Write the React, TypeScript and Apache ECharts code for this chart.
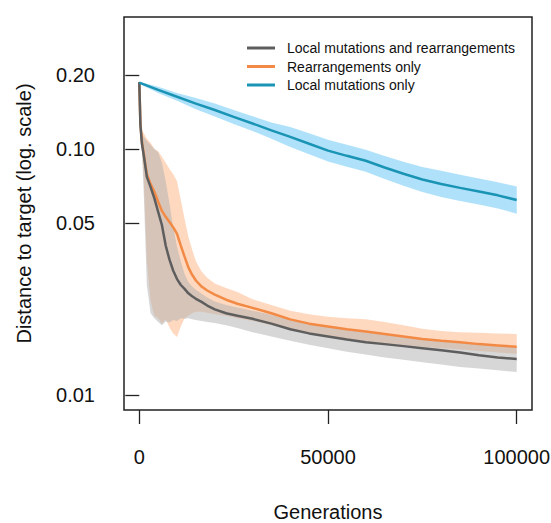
import React, { useEffect, useRef } from 'react';
import * as echarts from 'echarts';

const FONT = '"Liberation Sans", Arial, Helvetica, sans-serif';

// Axis ticks
const xTicks = [0, 50000, 100000];
const yTicks = [0.01, 0.05, 0.1, 0.2];

// Series names
const NAME_BOTH = 'Local mutations and rearrangements';
const NAME_REARR = 'Rearrangements only';
const NAME_LOCAL = 'Local mutations only';

// Generations for the two fast-dropping series
const mixGens = [0, 300, 700, 1200, 2000, 3000, 4000, 5000, 6000, 7000, 8000, 9000, 10000, 11000, 12000, 13000, 14000, 15000, 16500, 18000, 20000, 23000, 26000, 30000, 35000, 40000, 45000, 50000, 55000, 60000, 65000, 70000, 75000, 80000, 85000, 90000, 95000, 100000];

const grayMean = [0.187, 0.125, 0.105, 0.094, 0.077, 0.07, 0.063, 0.0555, 0.049, 0.0405, 0.0355, 0.032, 0.0296, 0.028, 0.027, 0.0259, 0.0252, 0.0246, 0.0239, 0.0231, 0.0223, 0.0215, 0.021, 0.0204, 0.0195, 0.0185, 0.0178, 0.0173, 0.0168, 0.0164, 0.0161, 0.0158, 0.0155, 0.0152, 0.0149, 0.0145, 0.0142, 0.014];
const grayHi = [0.188, 0.135, 0.116, 0.112, 0.108, 0.104, 0.1, 0.097, 0.088, 0.074, 0.06, 0.048, 0.04, 0.035, 0.031, 0.0288, 0.0276, 0.0268, 0.0258, 0.0249, 0.024, 0.0232, 0.0227, 0.022, 0.0212, 0.0202, 0.0195, 0.019, 0.0184, 0.018, 0.0176, 0.0173, 0.017, 0.0167, 0.0164, 0.0161, 0.0158, 0.0156];
const grayLo = [0.186, 0.118, 0.098, 0.065, 0.028, 0.0215, 0.0205, 0.0198, 0.0192, 0.0199, 0.0197, 0.0202, 0.02, 0.0205, 0.0204, 0.0205, 0.0203, 0.0202, 0.02, 0.0198, 0.0196, 0.0192, 0.0187, 0.018, 0.0173, 0.0166, 0.016, 0.0155, 0.015, 0.0146, 0.0142, 0.0139, 0.0136, 0.0133, 0.013, 0.0128, 0.0126, 0.0124];

const orangeMean = [0.187, 0.127, 0.107, 0.095, 0.079, 0.072, 0.067, 0.061, 0.056, 0.053, 0.0505, 0.048, 0.0452, 0.0405, 0.0365, 0.033, 0.0308, 0.0292, 0.0276, 0.0266, 0.0256, 0.0244, 0.0235, 0.0226, 0.0215, 0.0203, 0.0195, 0.019, 0.0185, 0.0181, 0.0177, 0.0173, 0.0169, 0.0166, 0.0164, 0.0161, 0.0159, 0.0157];
const orangeHi = [0.188, 0.135, 0.118, 0.116, 0.11, 0.106, 0.1, 0.098, 0.093, 0.088, 0.083, 0.079, 0.074, 0.062, 0.052, 0.044, 0.039, 0.035, 0.0318, 0.03, 0.0284, 0.0272, 0.0262, 0.0245, 0.0232, 0.022, 0.0213, 0.0208, 0.0205, 0.0203, 0.0198, 0.0192, 0.0186, 0.0182, 0.018, 0.0179, 0.0178, 0.0177];
const orangeLo = [0.186, 0.12, 0.1, 0.075, 0.035, 0.024, 0.021, 0.0205, 0.0195, 0.0203, 0.0188, 0.0178, 0.0172, 0.019, 0.0205, 0.021, 0.0215, 0.0218, 0.0218, 0.0216, 0.0213, 0.021, 0.0205, 0.02, 0.0192, 0.0184, 0.0177, 0.0172, 0.0168, 0.0165, 0.0162, 0.0159, 0.0157, 0.0155, 0.0153, 0.0151, 0.0149, 0.0147];

// Local mutations only
const blueGens = [0, 5000, 10000, 15000, 20000, 25000, 30000, 35000, 40000, 45000, 50000, 55000, 60000, 65000, 70000, 75000, 80000, 85000, 90000, 95000, 100000];
const blueMean = [0.186, 0.174, 0.163, 0.153, 0.144, 0.135, 0.127, 0.119, 0.112, 0.105, 0.0985, 0.0938, 0.0896, 0.0841, 0.0793, 0.0752, 0.0721, 0.0695, 0.0672, 0.0648, 0.062];
const blueHi = [0.1878, 0.179, 0.169, 0.161, 0.153, 0.144, 0.136, 0.128, 0.123, 0.116, 0.109, 0.104, 0.0993, 0.0937, 0.0887, 0.0845, 0.0815, 0.0785, 0.0759, 0.0732, 0.0704];
const blueLo = [0.1843, 0.169, 0.157, 0.145, 0.1355, 0.1264, 0.1184, 0.11, 0.102, 0.0952, 0.0889, 0.0847, 0.0809, 0.0755, 0.0709, 0.0669, 0.0638, 0.0615, 0.0595, 0.0573, 0.0546];

const COL_GRAY = '#5e5e5e';
const COL_ORANGE = '#f28a45';
const COL_BLUE = '#1a94b4';
const BAND_GRAY = 'rgba(175,175,175,0.5)';
const BAND_ORANGE = 'rgba(252,170,115,0.45)';
const BAND_BLUE = 'rgba(110,200,245,0.55)';

function band(name: string, gens: number[], lo: number[], hi: number[], fill: string, z: number) {
  return {
    type: 'custom',
    name,
    silent: true,
    z,
    clip: true,
    data: [[gens[0], hi[0]]],
    renderItem: (_params: any, api: any) => {
      const pts: number[][] = [];
      for (let i = 0; i < gens.length; i++) pts.push(api.coord([gens[i], hi[i]]));
      for (let i = gens.length - 1; i >= 0; i--) pts.push(api.coord([gens[i], lo[i]]));
      return { type: 'polygon', shape: { points: pts }, style: { fill } };
    },
  };
}

function line(name: string, gens: number[], vals: number[], color: string, z: number) {
  return {
    type: 'line',
    name,
    z,
    symbol: 'none',
    data: gens.map((g, i) => [g, vals[i]]),
    lineStyle: { width: 2.5, color },
    itemStyle: { color },
  };
}

export default function App() {
  const ref = useRef<HTMLDivElement>(null);
  useEffect(() => {
    const chart = echarts.init(ref.current!, null, { renderer: 'svg' });
    const axisText = { fontSize: 20, color: '#111', fontFamily: FONT };
    chart.setOption({
      animation: false,
      backgroundColor: '#fff',
      grid: {
        left: 124, top: 17, width: 408, height: 393,
        show: true, borderColor: '#222', borderWidth: 1.5, backgroundColor: 'transparent',
        outerBoundsMode: 'none', containLabel: false,
      },
      legend: {
        data: [NAME_BOTH, NAME_REARR, NAME_LOCAL],
        orient: 'vertical',
        left: 247,
        top: 40,
        padding: 0,
        itemGap: 2.5,
        itemWidth: 28,
        itemHeight: 3,
        icon: 'rect',
        textStyle: { fontSize: 14, fontFamily: FONT, color: '#111', lineHeight: 16, padding: [0, 0, 0, 7] },
      },
      xAxis: {
        type: 'value',
        min: -4050,
        max: 104050,
        splitLine: { show: false },
        axisLine: { show: false },
        axisTick: { show: true, length: 14, lineStyle: { color: '#222', width: 1.3 }, customValues: xTicks },
        axisLabel: { ...axisText, margin: 37, customValues: xTicks, formatter: (v: number) => String(v) },
        name: 'Generations',
        nameLocation: 'middle',
        nameGap: 92,
        nameTextStyle: axisText,
      },
      yAxis: {
        type: 'log',
        logBase: 10,
        min: 0.00869,
        max: 0.344,
        splitLine: { show: false },
        axisLine: { show: false },
        axisTick: { show: true, length: 14, lineStyle: { color: '#222', width: 1.3 }, customValues: yTicks },
        axisLabel: { ...axisText, margin: 29, customValues: yTicks, formatter: (v: number) => Number(v).toFixed(2) },
        name: 'Distance to target (log. scale)',
        nameLocation: 'middle',
        nameGap: 90,
        nameTextStyle: axisText,
      },
      series: [
        band('band-orange', mixGens, orangeLo, orangeHi, BAND_ORANGE, 1),
        band('band-gray', mixGens, grayLo, grayHi, BAND_GRAY, 1),
        band('band-blue', blueGens, blueLo, blueHi, BAND_BLUE, 1),
        line(NAME_REARR, mixGens, orangeMean, COL_ORANGE, 3),
        line(NAME_BOTH, mixGens, grayMean, COL_GRAY, 3),
        line(NAME_LOCAL, blueGens, blueMean, COL_BLUE, 3),
      ],
    });
    return () => chart.dispose();
  }, []);
  return <div ref={ref} style={{ position: 'fixed', left: 0, top: 0, width: 551, height: 523 }} />;
}
